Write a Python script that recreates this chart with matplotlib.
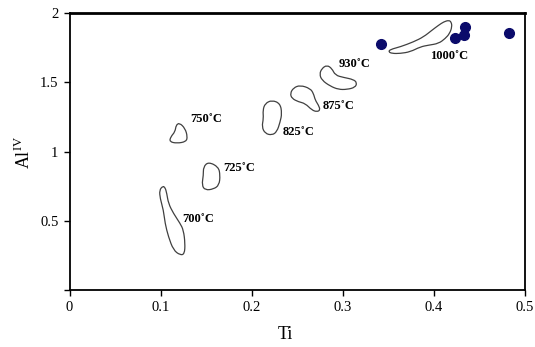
import numpy as np
import matplotlib.pyplot as plt
from matplotlib.path import Path
from matplotlib.patches import PathPatch

plt.rcParams["font.family"] = ["Liberation Serif", "DejaVu Serif"]
plt.rcParams["mathtext.fontset"] = "custom"
plt.rcParams["mathtext.rm"] = "Liberation Serif"

# measured compositions (Ti, Al IV)
ti_pts = [0.342, 0.423, 0.433, 0.434, 0.483]
al_pts = [1.78, 1.82, 1.84, 1.90, 1.86]

# experimental fields, outlines as (Ti, Al IV)
field_700 = [(0.1024, 0.751), (0.0987, 0.722), (0.0995, 0.662), (0.1031, 0.578),
             (0.1049, 0.482), (0.1086, 0.385), (0.1141, 0.289), (0.1214, 0.253),
             (0.1262, 0.260), (0.1269, 0.337), (0.1251, 0.433), (0.1214, 0.482),
             (0.1141, 0.554), (0.1086, 0.626), (0.1068, 0.698), (0.1049, 0.742)]
field_725 = [(0.1525, 0.926), (0.1635, 0.890), (0.1654, 0.830), (0.1643, 0.758),
             (0.1580, 0.729), (0.1489, 0.722), (0.1453, 0.758), (0.1470, 0.830),
             (0.1470, 0.890)]
field_750 = [(0.1207, 1.208), (0.1269, 1.168), (0.1295, 1.108), (0.1280, 1.072),
             (0.1178, 1.060), (0.1097, 1.072), (0.1112, 1.108), (0.1159, 1.144),
             (0.1170, 1.192)]
field_825 = [(0.2222, 1.372), (0.2313, 1.348), (0.2332, 1.276), (0.2313, 1.215),
             (0.2277, 1.143), (0.2222, 1.119), (0.2148, 1.131), (0.2112, 1.179),
             (0.2130, 1.240), (0.2123, 1.300), (0.2148, 1.348)]
field_875 = [(0.2533, 1.480), (0.2643, 1.456), (0.2679, 1.420), (0.2698, 1.372),
             (0.2734, 1.336), (0.2753, 1.300), (0.2716, 1.288), (0.2662, 1.300),
             (0.2588, 1.348), (0.2514, 1.360), (0.2442, 1.384), (0.2423, 1.420),
             (0.2459, 1.461)]
field_930 = [(0.2826, 1.625), (0.2881, 1.601), (0.2918, 1.552), (0.3009, 1.536),
             (0.3119, 1.521), (0.3156, 1.497), (0.3137, 1.464), (0.3046, 1.449),
             (0.2954, 1.449), (0.2863, 1.473), (0.2771, 1.516), (0.2745, 1.560),
             (0.2771, 1.601)]
field_1000 = [(0.4163, 1.949), (0.4192, 1.937), (0.4200, 1.901), (0.4174, 1.853),
              (0.4126, 1.817), (0.4053, 1.781), (0.3943, 1.769), (0.3852, 1.757),
              (0.3742, 1.721), (0.3632, 1.709), (0.3541, 1.709), (0.3503, 1.721),
              (0.3522, 1.738), (0.3632, 1.757), (0.3778, 1.793), (0.3888, 1.829),
              (0.3980, 1.877), (0.4053, 1.913), (0.4108, 1.937)]

fields = [field_700, field_725, field_750, field_825, field_875, field_930, field_1000]
labels = ["700˚C", "725˚C", "750˚C", "825˚C", "875˚C", "930˚C", "1000˚C"]
label_xy = [(0.1237, 0.513), (0.169, 0.881), (0.1324, 1.235), (0.2335, 1.141),
            (0.2775, 1.329), (0.295, 1.632), (0.396, 1.69)]


def smooth_outline(pts):
    # closed quadratic spline through the midpoints of the outline
    p = np.asarray(pts)
    mids = (p + np.roll(p, -1, axis=0)) / 2
    verts = [mids[-1]]
    codes = [Path.MOVETO]
    for i in range(len(p)):
        verts += [p[i], mids[i]]
        codes += [Path.CURVE3, Path.CURVE3]
    return Path(verts, codes)


fig = plt.figure(figsize=(5.35, 3.47), dpi=100)
ax = fig.add_axes([0.130, 0.164, 0.851, 0.798])

for pts in fields:
    ax.add_patch(PathPatch(smooth_outline(pts), facecolor="none",
                           edgecolor="#404040", lw=0.9))

for txt, (x, y) in zip(labels, label_xy):
    ax.text(x, y, txt, fontsize=9, fontweight="bold", ha="left", va="center")

ax.plot(ti_pts, al_pts, "o", color="#0b0b6b", ms=7, mec="#0b0b6b")

ax.set_xlim(0, 0.5)
ax.set_ylim(0, 2)
ax.set_xticks([0, 0.1, 0.2, 0.3, 0.4, 0.5])
ax.set_xticklabels(["0", "0.1", "0.2", "0.3", "0.4", "0.5"])
ax.set_yticks([0, 0.5, 1, 1.5, 2])
ax.set_yticklabels(["", "0.5", "1", "1.5", "2"])
ax.tick_params(direction="out", length=4, width=1, labelsize=10.5, pad=4)

for side in ["left", "bottom", "right", "top"]:
    ax.spines[side].set_linewidth(1.3)
ax.spines["top"].set_linewidth(2)

ax.set_xlabel("Ti", fontsize=13)
ax.set_ylabel(r"Al$^{\mathrm{IV}}$", fontsize=13)
ax.xaxis.set_label_coords(0.473, -0.162)
ax.yaxis.set_label_coords(-0.10, 0.498)
ax.xaxis.label.set_va("center")
ax.yaxis.label.set_va("center")

fig.savefig("out.png", dpi=100)
